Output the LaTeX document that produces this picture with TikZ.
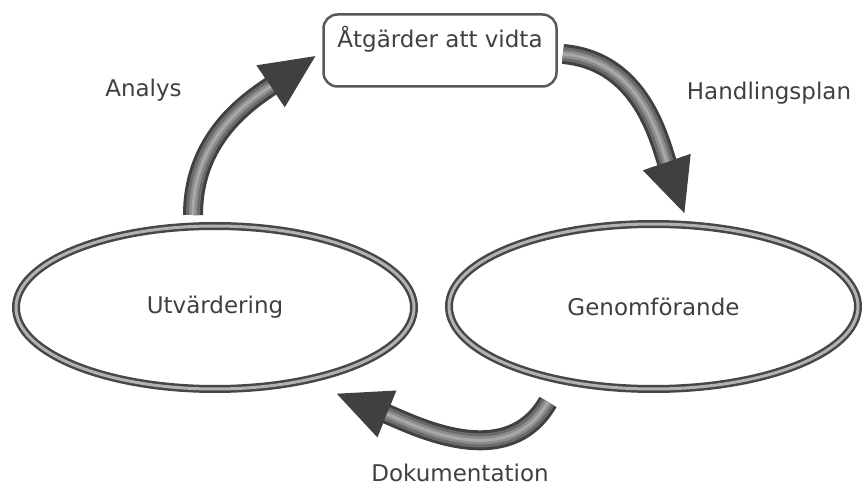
\documentclass[tikz,border=0pt]{standalone}
\usepackage{fontspec}
\setmainfont{DejaVu Sans}
\usetikzlibrary{arrows.meta, shapes.geometric}

\begin{document}
\begin{tikzpicture}[x=1pt, y=1pt, font=\fontsize{23}{27}\selectfont, text=black!75,
    ring/.style={ellipse, draw=black!72, line width=2.5pt, double=gray!60, double distance=3pt, inner sep=0pt},
    flow/.style={line width=20pt, draw=black!75, -{Triangle[length=56pt, width=46pt]}},
    shine/.style={line width=#1, shorten >=56pt}]
  \useasboundingbox (0,0) rectangle (863,488);

  \node[draw=black!65, line width=2.5pt, rounded corners=14pt, minimum width=233pt, minimum height=72pt, align=center] (todo) at (440,437.5) {Åtgärder att vidta\\\mbox{}};
  \node[ring, minimum width=398pt, minimum height=163pt] (eval) at (215,180.5) {Utvärdering};
  \node[ring, minimum width=409pt, minimum height=165pt] (exec) at (653.5,181.5) {Genomförande};

  % ends of the curved arrows
  \coordinate (analysFrom) at (193,273);
  \coordinate (analysTo) at (317,433);
  \coordinate (planFrom) at (563,434);
  \coordinate (planTo) at (685,273);
  \coordinate (dokFrom) at (548,86);
  \coordinate (dokTo) at (335,95);

  \draw[flow] (analysFrom) to[out=90, in=-146] (analysTo);
  \draw[flow] (planFrom) to[out=-5, in=109] (planTo);
  \draw[flow] (dokFrom) to[out=-120, in=-22] (dokTo);
  % lighter middle of the arrow bodies
  \foreach \w/\c in {14/58, 8/45, 3/34} {
    \draw[shine=\w, draw=black!\c] (analysFrom) to[out=90, in=-146] (analysTo);
    \draw[shine=\w, draw=black!\c] (planFrom) to[out=-5, in=109] (planTo);
    \draw[shine=\w, draw=black!\c] (dokFrom) to[out=-120, in=-22] (dokTo);
  }

  \node[anchor=base] (analys) at (143.5,391) {Analys};
  \node[anchor=base] (plan) at (769,388) {Handlingsplan};
  \node[anchor=base] (dok) at (460,7) {Dokumentation};
\end{tikzpicture}
\end{document}
